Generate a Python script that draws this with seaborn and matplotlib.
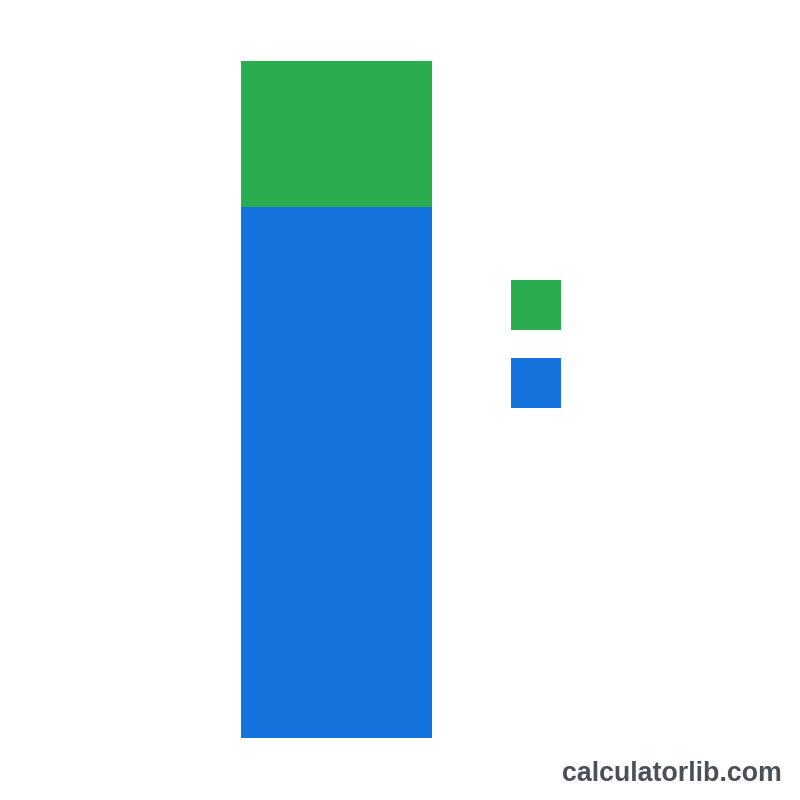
import matplotlib
matplotlib.use("Agg")
import matplotlib.pyplot as plt
from matplotlib.patches import Patch
import pandas as pd
import seaborn as sns

# stacked bar: one category, two parts (no labels shown in the picture)
categories = [""]
blue_values = [78.4]
green_values = [21.6]
series_names = ["", ""]
green_col = "#28ae4e"
blue_col = "#1472dc"

df = pd.DataFrame({"cat": categories, "blue": blue_values, "green": green_values})
df["total"] = df["blue"] + df["green"]

sns.set_theme(style="white")
fig = plt.figure(figsize=(8, 8), dpi=100)
ax = fig.add_axes([241 / 800, 62 / 800, 191 / 800, 677 / 800])

sns.barplot(data=df, x="cat", y="total", color=green_col, width=1.0, ax=ax,
            saturation=1, linewidth=0)
sns.barplot(data=df, x="cat", y="blue", color=blue_col, width=1.0, ax=ax,
            saturation=1, linewidth=0)

ax.set_xlim(-0.5, 0.5)
ax.set_ylim(0, df["total"].max())
ax.set_axis_off()

handles = [Patch(facecolor=green_col, edgecolor="none"),
           Patch(facecolor=blue_col, edgecolor="none")]
fig.legend(handles=handles, labels=series_names, loc="upper left",
           bbox_to_anchor=(511 / 800, 1 - 280 / 800), frameon=False,
           fontsize=10, handlelength=3.6, handleheight=5.15, borderpad=0,
           borderaxespad=0, handletextpad=0, labelspacing=2.0)

fig.text(0.977, 0.033, "calculatorlib.com", ha="right", va="center",
         fontsize=19.3, fontweight="bold", color="#4a505a", family="Liberation Sans")

fig.savefig("out.png", dpi=100, facecolor="white")
